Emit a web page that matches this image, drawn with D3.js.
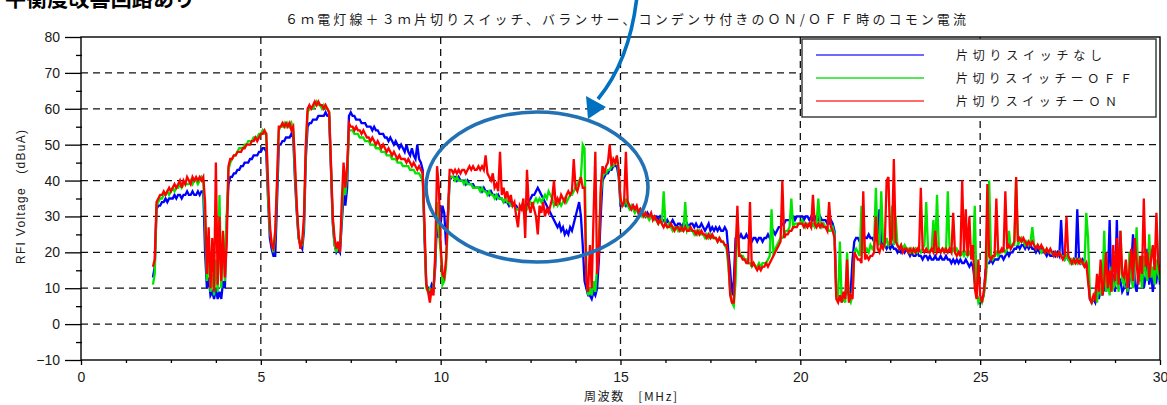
<!DOCTYPE html>
<html>
<head>
<meta charset="utf-8">
<script src="https://cdn.jsdelivr.net/npm/d3@7"></script>
<style>
  html, body { margin: 0; padding: 0; background: #fff; }
  svg { display: block; }
</style>
</head>
<body>
<svg id="chart" width="1167" height="405"></svg>
<script>
// Common-mode current sweep, 2.00 MHz .. 30.00 MHz, one reading every 0.05 MHz (dBuA)
const sweepStartMHz = 2.0;
const sweepStepMHz = 0.05;

// 片切りスイッチなし
const switchNone = [
  13,16,32,33,33,34,34,35,34,35,35,35,36,35,36,36,35,36,36,37, // 2
  36,36,37,36,36,37,36,37,37,20,10,13,8,9,7,10,7,9,7,12,       // 3
  10,28,39,41,41,42,42,43,43,44,44,45,45,45,46,46,47,47,47,48, // 4
  48,49,49,48,35,24,21,19,19,34,50,50,51,51,52,52,52,53,52,40, // 5
  31,24,22,21,26,46,55,56,56,57,57,57,58,58,58,58,59,58,58,43, // 6
  28,22,20,21,20,28,36,33,38,58,59,58,58,57,57,57,56,56,56,55, // 7
  55,55,54,55,54,54,53,53,53,52,52,51,52,51,50,51,50,49,50,49, // 8
  48,50,48,47,49,47,46,50,46,45,43,24,11,10,9,11,10,16,30,24,  // 9
  28,33,31,22,30,40,41,41,41,40,41,40,40,40,39,40,39,39,39,38, // 10
  38,38,38,37,38,37,37,36,37,36,36,35,36,35,35,34,34,34,33,34, // 11
  33,33,33,32,32,33,32,33,33,34,35,36,36,37,38,37,36,35,34,33, // 12
  32,31,30,29,28,27,28,26,27,25,26,25,27,26,28,30,32,34,30,22, // 13
  12,10,8,8,7,9,8,10,18,30,40,41,42,42,43,43,44,44,44,41,      // 14
  33,33,34,33,34,33,32,33,32,32,31,32,31,31,30,31,30,30,30,30, // 15
  30,29,30,29,29,28,29,28,28,29,28,27,28,28,27,28,27,28,27,28, // 16
  28,27,28,27,27,28,27,26,27,28,26,27,26,27,26,27,26,26,27,26, // 17
  20,15,8,12,24,25,24,25,24,24,25,24,24,23,24,24,23,24,24,23,  // 18
  24,24,25,24,25,26,25,26,27,27,28,28,29,29,29,30,30,29,30,30, // 19
  30,30,29,30,30,29,30,29,30,29,29,30,29,29,29,28,28,29,28,26, // 20
  9,8,7,8,7,8,10,8,9,18,23,24,24,23,24,25,24,24,25,24,         // 21
  24,23,24,23,32,22,23,22,21,22,21,22,21,21,20,21,20,21,20,21, // 22
  20,19,20,19,19,20,19,19,18,19,19,18,19,18,18,19,18,18,19,18, // 23
  18,19,18,18,17,18,17,18,17,18,17,17,18,17,16,17,16,12,8,7,   // 24
  6,7,8,15,17,17,18,17,18,18,18,19,19,18,19,20,19,20,20,21,    // 25
  21,22,21,22,22,21,22,21,22,21,21,20,21,20,21,20,20,19,20,19, // 26
  19,20,19,20,19,29,19,18,19,18,18,17,18,17,32,18,17,18,17,17, // 27
  14,7,6,7,6,9,7,10,8,11,9,12,29,10,14,9,29,11,12,9,           // 28
  10,14,8,12,16,25,11,9,14,12,17,10,13,21,11,15,9,13,12,16,11  // 29-30
];

// 片切りスイッチーＯＦＦ
const switchOff = [
  11,14,33,34,35,35,36,36,37,36,37,38,37,38,38,39,38,39,39,39, // 2
  39,40,39,40,40,39,40,41,40,28,12,20,9,14,8,18,9,36,10,25,    // 3
  12,30,43,45,46,47,47,48,49,49,49,50,50,51,51,51,52,52,52,53, // 4
  53,54,53,53,36,26,23,20,25,38,54,55,55,56,55,56,55,56,54,42, // 5
  32,24,22,22,28,48,59,60,60,60,61,62,61,61,60,61,60,60,59,44, // 6
  29,22,20,22,21,30,40,36,42,54,54,54,53,53,53,52,52,52,51,51, // 7
  51,50,50,50,49,49,49,48,48,48,47,47,47,46,46,46,45,45,45,44, // 8
  44,44,44,43,43,43,42,42,42,41,40,26,10,9,10,9,10,18,34,26,   // 9
  20,11,12,16,28,41,41,41,40,41,40,40,40,39,40,39,39,39,38,38, // 10
  38,38,37,38,37,37,36,37,36,36,35,36,35,35,35,34,35,34,34,33, // 11
  33,33,32,32,32,33,32,33,32,33,34,33,34,35,34,35,34,35,36,35, // 12
  37,36,35,33,34,33,34,33,34,35,34,35,36,36,37,38,39,40,41,50, // 13
  49,14,8,10,8,12,9,16,24,36,41,42,42,43,43,44,44,45,46,42,    // 14
  34,33,33,35,33,32,33,32,31,32,31,31,30,31,30,30,29,30,30,29, // 15
  29,28,29,28,37,28,27,28,27,26,27,27,26,27,26,26,34,26,27,26, // 16
  26,25,26,25,26,25,25,24,25,24,25,24,24,24,23,24,23,23,22,21, // 17
  16,9,6,5,12,30,20,19,19,18,18,17,17,16,17,16,16,17,16,17,    // 18
  17,17,18,19,32,20,21,22,23,24,24,25,26,26,27,35,27,28,28,28, // 19
  28,29,28,27,28,28,27,28,27,28,35,28,27,28,27,27,26,26,27,25, // 20
  8,7,23,6,7,6,20,7,6,8,20,21,20,19,33,21,20,21,20,22,         // 21
  21,22,38,23,22,37,23,22,24,22,23,33,22,30,22,21,22,21,22,21, // 22
  21,20,21,20,21,20,21,20,21,22,34,21,20,21,29,20,36,21,20,21, // 23
  21,20,37,21,20,21,20,21,20,19,20,19,20,19,20,19,18,33,9,6,   // 24
  7,6,8,12,18,40,19,18,19,20,19,20,20,21,20,21,26,21,22,22,    // 25
  40,22,23,24,23,22,23,22,23,27,22,21,22,21,20,21,20,21,20,20, // 26
  20,19,20,19,20,19,19,18,19,18,17,18,17,18,17,18,17,17,16,31, // 27
  24,8,6,7,9,6,12,8,10,26,9,13,8,16,10,11,14,9,26,12,          // 28
  11,15,9,20,13,10,17,27,12,15,10,19,14,12,25,13,16,11,18,14,12 // 29-30
];

// 片切りスイッチーＯＮ
const switchOn = [
  16,18,34,35,36,36,37,36,37,38,37,38,39,38,39,40,38,40,39,41, // 2
  40,39,41,40,41,40,41,40,41,34,14,27,10,24,9,45,11,30,12,26,  // 3
  13,22,44,46,46,47,47,48,48,48,49,49,50,50,50,51,51,52,51,52, // 4
  53,53,54,53,40,28,22,21,26,40,55,55,56,55,56,55,56,54,55,45, // 5
  33,25,21,23,30,50,60,61,60,61,62,61,62,61,61,60,61,60,59,45, // 6
  30,24,21,23,20,34,45,38,44,56,55,55,54,55,54,54,53,54,53,52, // 7
  52,51,52,51,50,51,50,49,50,49,48,49,48,47,48,47,46,47,46,46, // 8
  46,45,46,45,44,45,44,43,44,43,42,28,11,9,6,10,8,20,44,38,    // 9
  22,14,13,18,30,43,43,42,43,42,43,42,43,43,42,43,44,43,44,43, // 10
  43,44,43,44,43,47,42,41,40,42,38,39,37,48,36,38,35,37,34,36, // 11
  33,34,30,27,33,32,35,24,43,33,31,34,32,30,25,33,31,34,30,32, // 12
  31,33,35,40,33,35,34,36,35,34,36,37,36,37,46,38,37,39,41,38, // 13
  38,12,9,22,10,30,48,14,20,38,44,42,44,45,50,44,46,45,47,43,  // 14
  35,33,34,48,34,33,32,33,32,33,31,32,31,30,31,30,30,31,29,30, // 15
  29,28,29,28,27,28,27,27,28,27,26,27,27,26,27,26,27,26,26,27, // 16
  26,26,25,26,25,26,25,25,24,25,24,25,24,24,23,24,23,23,22,22, // 17
  18,8,6,6,20,33,19,19,18,18,17,17,34,16,17,16,15,16,15,16,    // 18
  16,17,16,17,18,19,20,21,22,23,40,24,25,25,26,26,27,27,27,28, // 19
  28,28,27,28,27,28,27,36,28,27,28,27,28,27,27,26,34,27,26,24, // 20
  7,6,8,6,9,7,18,6,8,7,20,19,18,18,17,37,18,19,18,19,          // 21
  19,20,30,21,20,22,21,23,40,41,22,24,46,23,22,21,22,20,21,21, // 22
  20,21,20,21,20,21,20,38,21,20,21,20,20,21,20,26,20,21,20,21, // 23
  20,21,20,21,20,31,20,19,20,19,40,20,32,19,30,18,22,10,7,18,  // 24
  8,6,9,14,39,19,18,19,19,35,20,20,21,20,37,21,22,21,22,23,    // 25
  41,23,24,23,24,23,22,23,22,23,22,21,22,21,22,21,20,21,20,21, // 26
  20,19,20,19,20,19,18,19,30,19,18,17,18,17,18,17,18,17,16,17, // 27
  12,7,6,8,7,14,9,18,8,12,20,10,15,9,22,12,24,11,26,14,        // 28
  13,18,10,15,21,12,24,17,11,19,14,35,16,20,13,18,22,15,31,17,14 // 29-30
];

const seriesNames = ["片切りスイッチなし", "片切りスイッチーＯＦＦ", "片切りスイッチーＯＮ"];
const xMajorTicks = [0, 5, 10, 15, 20, 25, 30];
const xMinorTicks = [1.25, 2.5, 3.75, 6.25, 7.5, 8.75, 11.25, 12.5, 13.75, 16.25, 17.5, 18.75,
                     21.25, 22.5, 23.75, 26.25, 27.5, 28.75];
const yMajorTicks = [-10, 0, 10, 20, 30, 40, 50, 60, 70, 80];
const yMinorTicks = [-5, 5, 15, 25, 35, 45, 55, 65, 75];
const xGridLines = [5, 10, 15, 20, 25];
const yGridLines = [0, 10, 20, 30, 40, 50, 60, 70];

const chartTitle = "６ｍ電灯線＋３ｍ片切りスイッチ、バランサー、コンデンサ付きのＯＮ/ＯＦＦ時のコモン電流";
const headline = "平衡度改善回路あり";
const xTitle = "周波数　[MHz]";
const yTitle = "RFI Voltage　(dBuA)";

// ---- styling ----
const traceColors = ["#0000ff", "#00e600", "#ff0000"];
const legendColors = ["#3a3aff", "#22dd22", "#ff3a3a"];
const markColor = "#0070c0";
const latinFont = "'Liberation Sans', Arial, sans-serif";
const cjkFont = "'Noto Sans CJK JP', 'Noto Sans', sans-serif";

const svg = d3.select("#chart");
const plot = { left: 81, right: 1160, top: 37, bottom: 360 };

const x = d3.scaleLinear().domain([0, 30]).range([plot.left, plot.right]);
const y = d3.scaleLinear().domain([-10, 80]).range([plot.bottom, plot.top]);

// headline, mostly above the top of the page
svg.append("text")
  .attr("x", 5).attr("y", 6)
  .attr("font-family", cjkFont).attr("font-weight", 700).attr("font-size", 21)
  .attr("textLength", 190).attr("lengthAdjust", "spacing")
  .attr("fill", "#000")
  .text(headline);

// chart title
svg.append("text")
  .attr("x", 285).attr("y", 24)
  .attr("font-family", cjkFont).attr("font-size", 13)
  .attr("textLength", 681).attr("lengthAdjust", "spacing")
  .attr("fill", "#1a1a1a")
  .text(chartTitle);

// dashed grid
const grid = svg.append("g").attr("stroke", "#111").attr("stroke-width", 1.3)
  .attr("stroke-dasharray", "7,5");
grid.selectAll("line.h").data(yGridLines).join("line").attr("class", "h")
  .attr("x1", plot.left).attr("x2", plot.right)
  .attr("y1", d => y(d)).attr("y2", d => y(d));
grid.selectAll("line.v").data(xGridLines).join("line").attr("class", "v")
  .attr("y1", plot.top).attr("y2", plot.bottom)
  .attr("x1", d => x(d)).attr("x2", d => x(d));

// traces
svg.append("clipPath").attr("id", "plotClip")
  .append("rect")
  .attr("x", plot.left).attr("y", plot.top)
  .attr("width", plot.right - plot.left).attr("height", plot.bottom - plot.top);

const line = d3.line()
  .x((d, i) => x(sweepStartMHz + i * sweepStepMHz))
  .y(d => y(d));

const traces = svg.append("g").attr("clip-path", "url(#plotClip)");
[switchNone, switchOff, switchOn].forEach((values, k) => {
  traces.append("path")
    .datum(values)
    .attr("fill", "none")
    .attr("stroke", traceColors[k])
    .attr("stroke-width", 2.3)
    .attr("stroke-linejoin", "miter")
    .attr("d", line);
});

// frame
svg.append("rect")
  .attr("x", plot.left).attr("y", plot.top)
  .attr("width", plot.right - plot.left).attr("height", plot.bottom - plot.top)
  .attr("fill", "none").attr("stroke", "#000").attr("stroke-width", 1.4);

// axes
function styleAxis(g) {
  g.select(".domain").remove();
  g.selectAll(".tick line").attr("stroke", "#000").attr("stroke-width", 1.3);
  g.selectAll(".tick text").attr("font-family", latinFont).attr("font-size", 14).attr("fill", "#1a1a1a");
}

svg.append("g").attr("transform", `translate(${plot.left},0)`)
  .call(d3.axisLeft(y).tickValues(yMajorTicks).tickSize(16).tickPadding(5).tickFormat(d3.format("d")))
  .call(styleAxis);
svg.append("g").attr("transform", `translate(${plot.left + 1},0)`)
  .call(d3.axisLeft(y).tickValues(yMinorTicks).tickSize(6).tickFormat(""))
  .call(styleAxis);

svg.append("g").attr("transform", `translate(0,${plot.bottom})`)
  .call(d3.axisBottom(x).tickValues(xMajorTicks).tickSize(5).tickPadding(7).tickFormat(d3.format("d")))
  .call(styleAxis);
svg.append("g").attr("transform", `translate(0,${plot.bottom})`)
  .call(d3.axisBottom(x).tickValues(xMinorTicks).tickSize(3).tickFormat(""))
  .call(styleAxis);

// axis titles
svg.append("text")
  .attr("x", 584).attr("y", 401)
  .attr("font-family", cjkFont).attr("font-size", 12)
  .attr("textLength", 93).attr("lengthAdjust", "spacing")
  .attr("fill", "#1a1a1a")
  .text(xTitle);

svg.append("text")
  .attr("transform", "translate(25,197) rotate(-90)")
  .attr("text-anchor", "middle")
  .attr("font-family", latinFont).attr("font-size", 12)
  .attr("textLength", 134).attr("lengthAdjust", "spacing")
  .attr("fill", "#1a1a1a")
  .text(yTitle);

// legend
const legend = svg.append("g");
legend.append("rect")
  .attr("x", 802).attr("y", 39).attr("width", 354).attr("height", 78)
  .attr("fill", "#fff").attr("stroke", "#333").attr("stroke-width", 1.4);
const legendRows = [55, 78, 101];
const legendWidths = [146, 176, 161];
seriesNames.forEach((name, k) => {
  legend.append("line")
    .attr("x1", 816).attr("x2", 924)
    .attr("y1", legendRows[k]).attr("y2", legendRows[k])
    .attr("stroke", legendColors[k]).attr("stroke-width", 1.6);
  legend.append("text")
    .attr("x", 956).attr("y", legendRows[k] + 5)
    .attr("font-family", cjkFont).attr("font-size", 12)
    .attr("textLength", legendWidths[k]).attr("lengthAdjust", "spacing")
    .attr("fill", "#1a1a1a")
    .text(name);
});

// highlight ring and pointer
svg.append("ellipse")
  .attr("cx", 537).attr("cy", 187).attr("rx", 111).attr("ry", 75)
  .attr("fill", "none").attr("stroke", "#2371b5").attr("stroke-width", 3.6);

svg.append("path")
  .attr("d", "M637,-4 Q630,60 598,99")
  .attr("fill", "none").attr("stroke", markColor).attr("stroke-width", 3.6);
svg.append("path")
  .attr("d", "M586,96 L606,107 L588,119 Z")
  .attr("fill", markColor);
</script>
</body>
</html>
